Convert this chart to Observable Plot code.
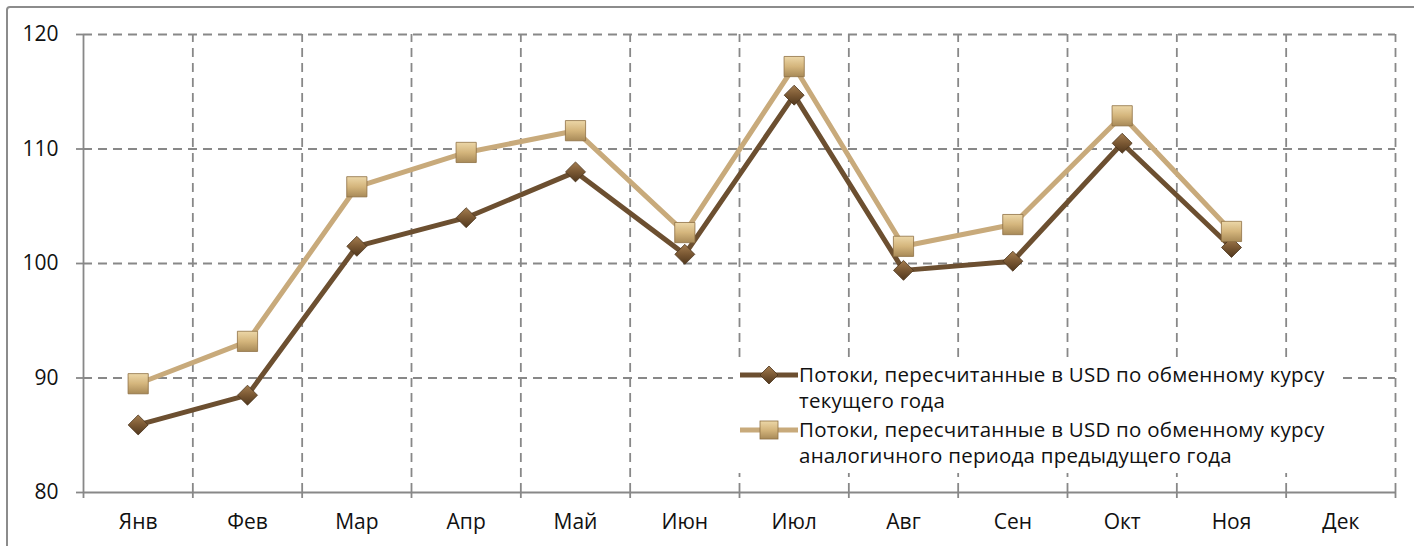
<!DOCTYPE html>
<html><head><meta charset="utf-8">
<script src="https://cdn.jsdelivr.net/npm/d3@7"></script>
<script src="https://cdn.jsdelivr.net/npm/@observablehq/plot@0.6"></script>
<style>
html,body{margin:0;padding:0;background:#fff;overflow:hidden;width:1414px;height:546px;}
#wrap{position:relative;width:1414px;height:546px;overflow:hidden;}
#frame{position:absolute;left:6px;top:6px;width:1500px;height:700px;border:2px solid #8c8c8c;border-radius:4px;box-sizing:border-box;}
#chart{position:absolute;left:0;top:0;}
#legend{position:absolute;left:733px;top:357px;width:604px;height:116px;background:#fff;font-family:"Open Sans",sans-serif;font-size:20.5px;color:#111;}
.item{position:absolute;left:7px;display:flex;align-items:flex-start;}
.item svg{flex:none;margin-top:4px;}
.item div{line-height:26px;margin-left:1px;letter-spacing:0.25px;white-space:nowrap;}
</style></head>
<body><div id="wrap"><div id="frame"></div><div id="chart"></div><div id="legend"></div></div>
<script>
const months = ["Янв","Фев","Мар","Апр","Май","Июн","Июл","Авг","Сен","Окт","Ноя","Дек"];
const current = [85.9, 88.5, 101.5, 104.0, 108.0, 100.8, 114.7, 99.4, 100.2, 110.5, 101.4];
const previous = [89.5, 93.2, 106.7, 109.7, 111.6, 102.7, 117.2, 101.5, 103.4, 112.9, 102.8];
const yTicks = [80, 90, 100, 110, 120];
const legendLines = [
  ["Потоки, пересчитанные в USD по обменному курсу", "текущего года"],
  ["Потоки, пересчитанные в USD по обменному курсу", "аналогичного периода предыдущего года"]
];

const darkColor = "#6c4f30";
const lightColor = "#c8aa7b";
const gridColor = "#888888";

const curData = current.map((v, i) => ({i, v}));
const prevData = previous.map((v, i) => ({i, v}));
const idx = months.map((m, i) => i);
const bounds = d3.range(months.length + 1).map(i => i - 0.5);

const font = "'Open Sans', sans-serif";

const plot = Plot.plot({
  width: 1414, height: 546,
  marginLeft: 83, marginRight: 19, marginTop: 34, marginBottom: 54,
  style: {fontFamily: font, fontSize: "21px", color: "#111", background: "transparent"},
  x: {type: "linear", domain: [bounds[0], bounds[bounds.length - 1]], axis: null},
  y: {domain: [yTicks[0], yTicks[yTicks.length - 1]], axis: null},
  marks: [
    Plot.ruleY(yTicks.slice(1), {x1: bounds[0], x2: bounds[bounds.length-1], stroke: gridColor, strokeWidth: 1.8, strokeDasharray: "9,6"}),
    Plot.ruleX(bounds.slice(1), {y1: yTicks[0], y2: yTicks[yTicks.length-1], stroke: gridColor, strokeWidth: 1.8, strokeDasharray: "9,6"}),
    Plot.ruleX([bounds[0]], {y1: yTicks[0], y2: yTicks[yTicks.length-1], stroke: gridColor, strokeWidth: 1.8}),
    Plot.ruleY([yTicks[0]], {x1: bounds[0], x2: bounds[bounds.length-1], stroke: gridColor, strokeWidth: 1.8}),
    Plot.axisY({ticks: yTicks, tickSize: 7, tickPadding: 18, stroke: gridColor, strokeWidth: 1.8, fontSize: 21, label: null}),
    Plot.axisX({ticks: bounds, tickSize: 6, tickFormat: () => "", stroke: gridColor, strokeWidth: 1.8, label: null}),
    Plot.axisX({ticks: idx, tickSize: 0, tickPadding: 22, tickFormat: i => months[i], fontSize: 21, label: null}),
    Plot.line(curData, {x: "i", y: "v", stroke: darkColor, strokeWidth: 5}),
    Plot.line(prevData, {x: "i", y: "v", stroke: lightColor, strokeWidth: 5}),
    Plot.dot(curData, {x: "i", y: "v", symbol: "diamond2", r: 9, fill: "url(#gD)", stroke: "#4a331c", strokeWidth: 0.8}),
    Plot.dot(prevData, {x: "i", y: "v", symbol: "square", r: 11.4, fill: "url(#gS)", stroke: "#8e7044", strokeWidth: 0.8})
  ]
});

const defs = `<defs>
<linearGradient id="gD" x1="0" y1="0" x2="0" y2="1"><stop offset="0" stop-color="#a47d50"/><stop offset="0.5" stop-color="#7a5833"/><stop offset="1" stop-color="#50371d"/></linearGradient>
<linearGradient id="gS" x1="0" y1="0" x2="0" y2="1"><stop offset="0" stop-color="#ecd7a8"/><stop offset="0.5" stop-color="#d4b57c"/><stop offset="1" stop-color="#a88a58"/></linearGradient>
</defs>`;
plot.insertAdjacentHTML("afterbegin", defs);
document.getElementById("chart").appendChild(plot);

// legend
const legend = document.getElementById("legend");
const swatch = (color, kind) => {
  const marker = kind === "d"
    ? `<path d="M29,1 L38,10 L29,19 L20,10 Z" fill="url(#gD)" stroke="#4a331c" stroke-width="0.8"/>`
    : `<rect x="20" y="1" width="18" height="18" fill="url(#gS)" stroke="#8e7044" stroke-width="0.8"/>`;
  return `<svg width="58" height="20"><line x1="0" y1="10" x2="58" y2="10" stroke="${color}" stroke-width="5"/>${marker}</svg>`;
};
const items = [[darkColor, "d", 4], [lightColor, "s", 59]];
items.forEach(([c, k, top], j) => {
  const el = document.createElement("div");
  el.className = "item";
  el.style.top = top + "px";
  el.innerHTML = swatch(c, k) + `<div>${legendLines[j].join("<br>")}</div>`;
  legend.appendChild(el);
});
</script></body></html>
